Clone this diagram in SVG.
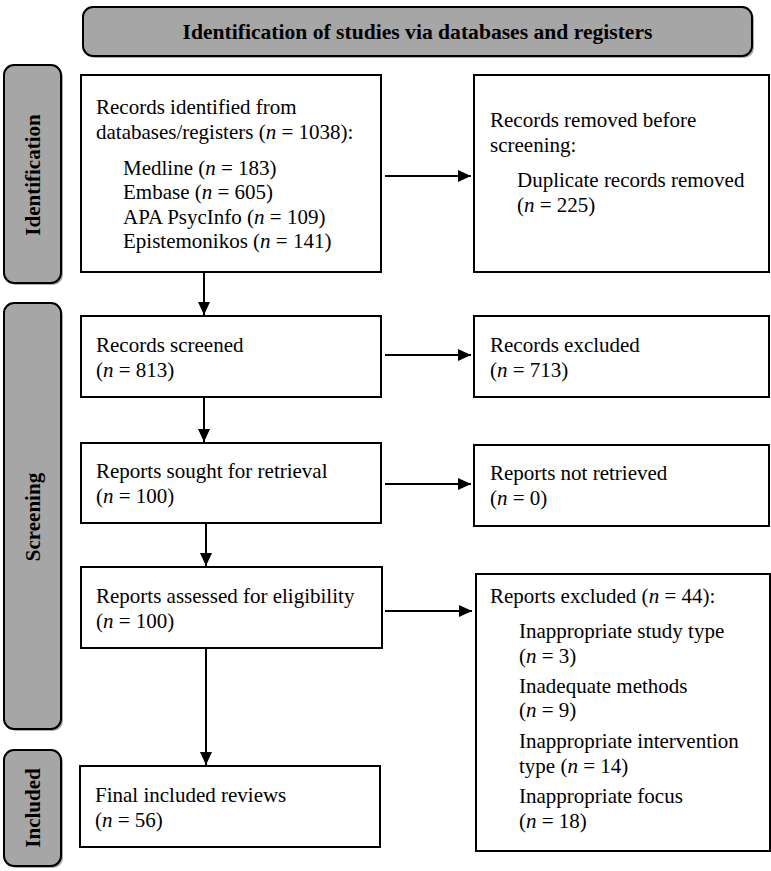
<svg xmlns="http://www.w3.org/2000/svg" width="771" height="871" viewBox="0 0 771 871">
<style>
text{font-family:"Liberation Serif","Times New Roman",serif;font-size:21px;fill:#000}
.b{font-weight:bold}
.hd{font-size:21.6px}
.box{fill:#fff;stroke:#000;stroke-width:2}
.lab{fill:#a6a6a6;stroke:#000;stroke-width:2}
.sh{fill:#555;opacity:0.5}
.ln{stroke:#000;stroke-width:2;fill:none}
.i{font-style:italic}
</style>
<defs>
<marker id="ah" markerUnits="userSpaceOnUse" markerWidth="14" markerHeight="12" refX="13" refY="6" orient="auto">
<path d="M0,0 L13,6 L0,12 Z" fill="#000"/>
</marker>
</defs>
<g id="header">
<rect class="sh" x="85" y="9" width="669" height="49" rx="10"/>
<rect class="lab" x="83" y="7" width="669" height="49" rx="10"/>
<text class="b hd" x="417.5" y="39" text-anchor="middle">Identification of studies via databases and registers</text>
</g>
<g id="label-identification">
<rect class="sh" x="6" y="67" width="57" height="218" rx="10"/>
<rect class="lab" x="4" y="65" width="57" height="218" rx="10"/>
<text class="b" transform="translate(40,175) rotate(-90)" text-anchor="middle">Identification</text>
</g>
<g id="label-screening">
<rect class="sh" x="6" y="305" width="57" height="426" rx="10"/>
<rect class="lab" x="4" y="303" width="57" height="426" rx="10"/>
<text class="b" transform="translate(40,517) rotate(-90)" text-anchor="middle">Screening</text>
</g>
<g id="label-included">
<rect class="sh" x="6" y="752" width="57" height="116" rx="10"/>
<rect class="lab" x="4" y="750" width="57" height="116" rx="10"/>
<text class="b" transform="translate(40,808) rotate(-90)" text-anchor="middle">Included</text>
</g>
<g id="records-identified">
<rect class="box" x="81" y="75" width="300" height="197"/>
<text x="96" y="114">Records identified from</text>
<text x="96" y="139">databases/registers (<tspan class="i">n</tspan> = 1038):</text>
<text x="123" y="175">Medline (<tspan class="i">n</tspan> = 183)</text>
<text x="123" y="199">Embase (<tspan class="i">n</tspan> = 605)</text>
<text x="123" y="224">APA PsycInfo (<tspan class="i">n</tspan> = 109)</text>
<text x="123" y="248">Epistemonikos (<tspan class="i">n</tspan> = 141)</text>
</g>
<g id="records-removed">
<rect class="box" x="474" y="75" width="295" height="197"/>
<text x="490" y="127">Records removed before</text>
<text x="490" y="152">screening:</text>
<text x="517" y="187">Duplicate records removed</text>
<text x="517" y="212">(<tspan class="i">n</tspan> = 225)</text>
</g>
<g id="records-screened">
<rect class="box" x="81" y="316" width="300" height="81"/>
<text x="96" y="352">Records screened</text>
<text x="96" y="377">(<tspan class="i">n</tspan> = 813)</text>
</g>
<g id="records-excluded">
<rect class="box" x="474" y="316" width="295" height="81"/>
<text x="490" y="352">Records excluded</text>
<text x="490" y="377">(<tspan class="i">n</tspan> = 713)</text>
</g>
<g id="reports-sought">
<rect class="box" x="81" y="443" width="300" height="80"/>
<text x="96" y="478">Reports sought for retrieval</text>
<text x="96" y="503">(<tspan class="i">n</tspan> = 100)</text>
</g>
<g id="reports-not-retrieved">
<rect class="box" x="474" y="445" width="295" height="81"/>
<text x="490" y="480">Reports not retrieved</text>
<text x="490" y="505">(<tspan class="i">n</tspan> = 0)</text>
</g>
<g id="reports-assessed">
<rect class="box" x="81" y="567" width="301" height="81"/>
<text x="96" y="603">Reports assessed for eligibility</text>
<text x="96" y="628">(<tspan class="i">n</tspan> = 100)</text>
</g>
<g id="reports-excluded">
<rect class="box" x="476" y="574" width="294" height="277"/>
<text x="490" y="603">Reports excluded (<tspan class="i">n</tspan> = 44):</text>
<text x="519" y="638">Inappropriate study type</text>
<text x="519" y="663">(<tspan class="i">n</tspan> = 3)</text>
<text x="519" y="693">Inadequate methods</text>
<text x="519" y="717">(<tspan class="i">n</tspan> = 9)</text>
<text x="519" y="748">Inappropriate intervention</text>
<text x="519" y="773">type (<tspan class="i">n</tspan> = 14)</text>
<text x="519" y="803">Inappropriate focus</text>
<text x="519" y="828">(<tspan class="i">n</tspan> = 18)</text>
</g>
<g id="final-included">
<rect class="box" x="80" y="766" width="300" height="81"/>
<text x="95" y="802">Final included reviews</text>
<text x="95" y="827">(<tspan class="i">n</tspan> = 56)</text>
</g>
<g id="connectors">
<line class="ln" x1="385" y1="176" x2="471" y2="176" marker-end="url(#ah)"/>
<line class="ln" x1="385" y1="355" x2="471" y2="355" marker-end="url(#ah)"/>
<line class="ln" x1="385" y1="484" x2="471" y2="484" marker-end="url(#ah)"/>
<line class="ln" x1="385" y1="611" x2="472" y2="611" marker-end="url(#ah)"/>
<line class="ln" x1="204" y1="273" x2="204" y2="315" marker-end="url(#ah)"/>
<line class="ln" x1="204" y1="398" x2="204" y2="442" marker-end="url(#ah)"/>
<line class="ln" x1="206" y1="524" x2="206" y2="566" marker-end="url(#ah)"/>
<line class="ln" x1="206" y1="649" x2="206" y2="765" marker-end="url(#ah)"/>
</g>
</svg>
